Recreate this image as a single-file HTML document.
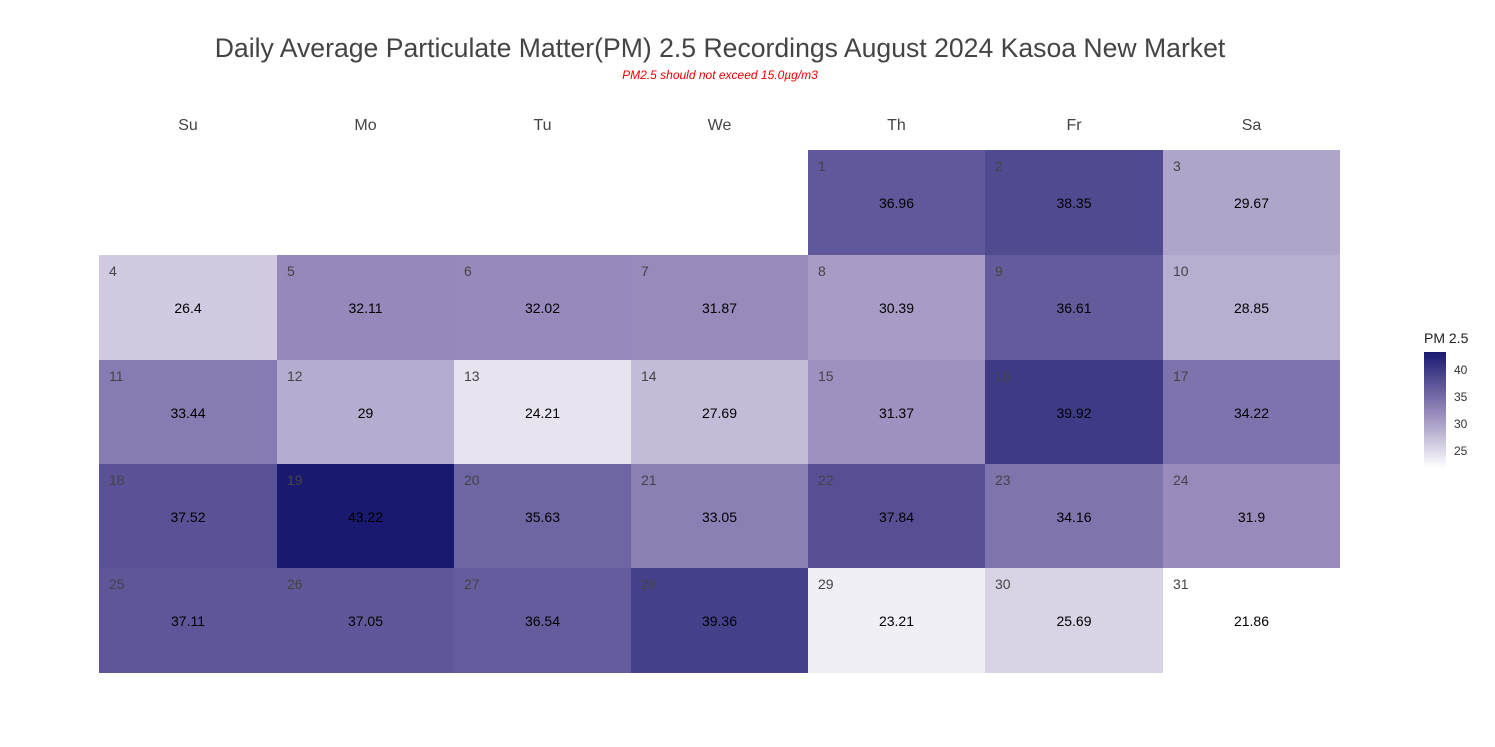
<!DOCTYPE html>
<html><head><meta charset="utf-8"><style>
body{margin:0;background:#fff;font-family:"Liberation Sans",sans-serif;}
#c{position:relative;width:1495px;height:747px;overflow:hidden}
.t{position:absolute;white-space:nowrap}
.cell{position:absolute}
.d{position:absolute;left:10px;top:8px;font-size:14px;color:#444}
.v{position:absolute;left:0;right:0;top:45px;text-align:center;font-size:14px;color:#000}
</style></head><body><div id="c">
<div class="t" style="left:0;width:1440px;text-align:center;top:33px;font-size:26.6px;color:#444">Daily Average Particulate Matter(PM) 2.5 Recordings August 2024 Kasoa New Market</div>
<div class="t" style="left:0;width:1440px;text-align:center;top:68px;font-size:12px;color:#e00;font-style:italic">PM2.5 should not exceed 15.0µg/m3</div>
<div id="g"></div>
<div class="t" style="left:1424px;top:330px;font-size:14px;color:#222">PM 2.5</div>
<div style="position:absolute;left:1424px;top:352px;width:22px;height:116px;background:linear-gradient(to top,#fff 0%,rgb(150,136,186) 48%,rgb(25,25,112) 100%)"></div>
<div class="t" style="left:1454px;top:363px;font-size:12px;color:#333">40</div>
<div class="t" style="left:1454px;top:390px;font-size:12px;color:#333">35</div>
<div class="t" style="left:1454px;top:417px;font-size:12px;color:#333">30</div>
<div class="t" style="left:1454px;top:444px;font-size:12px;color:#333">25</div>
</div>
<script>
var days=["Su","Mo","Tu","We","Th","Fr","Sa"];
var xs=[99,277,454,631,808,985,1163,1340],ys=[150,255,360,464,568,673];
var v=[36.96,38.35,29.67,26.4,32.11,32.02,31.87,30.39,36.61,28.85,33.44,29,24.21,27.69,31.37,39.92,34.22,37.52,43.22,35.63,33.05,37.84,34.16,31.9,37.11,37.05,36.54,39.36,23.21,25.69,21.86];
function col(x){var t=(x-21.86)/(43.22-21.86),a,b,u;
if(t<0.48){a=[255,255,255];b=[150,136,186];u=t/0.48}else{a=[150,136,186];b=[25,25,112];u=(t-0.48)/0.52}
return "rgb("+a.map(function(q,i){return Math.round(q+(b[i]-q)*u)}).join(",")+")";}
var h="";
for(var i=0;i<7;i++)h+='<div class="t" style="left:'+xs[i]+'px;width:'+(xs[i+1]-xs[i])+'px;text-align:center;top:117px;font-size:16px;color:#444">'+days[i]+'</div>';
for(var d=1;d<=31;d++){var p=d+3,r=Math.floor(p/7),c=p%7;
h+='<div class="cell" style="left:'+xs[c]+'px;top:'+ys[r]+'px;width:'+(xs[c+1]-xs[c])+'px;height:'+(ys[r+1]-ys[r])+'px;background:'+col(v[d-1])+'"><div class="d">'+d+'</div><div class="v">'+v[d-1]+'</div></div>';}
document.getElementById("g").innerHTML=h;
</script></body></html>
